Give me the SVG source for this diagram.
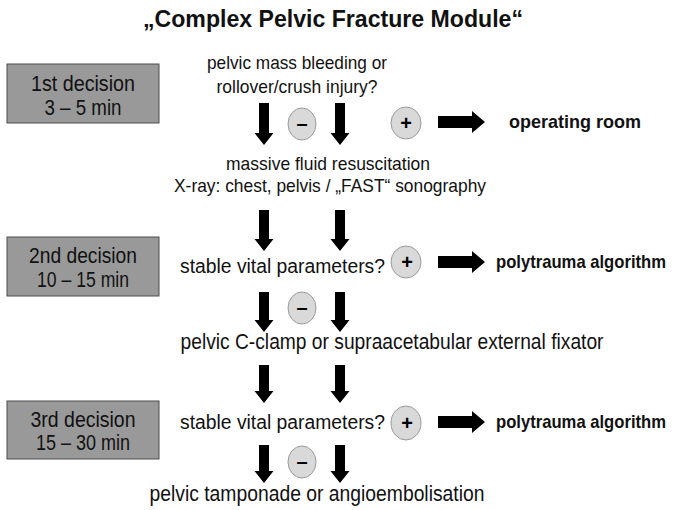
<svg xmlns="http://www.w3.org/2000/svg" width="685" height="510" viewBox="0 0 685 510">
<style>
.t{font-family:"Liberation Sans",Arial,sans-serif;fill:#111;}
.b{font-weight:bold;}
.box{fill:#999999;stroke:#4d4d4d;stroke-width:1;}
.c{fill:#d9d9d9;stroke:#9a9a9a;stroke-width:1;}
.s{font-family:"Liberation Sans",Arial,sans-serif;font-weight:bold;font-size:20px;fill:#000;text-anchor:middle;}
.ar{fill:#000;}
</style>
<rect width="685" height="510" fill="#fff"/>
<text class="t b" x="333" y="27" font-size="23.5" text-anchor="middle" textLength="380" lengthAdjust="spacingAndGlyphs">„Complex Pelvic Fracture Module“</text>

<g id="box1"><rect class="box" x="7" y="64" width="152" height="59"/>
<text class="t" x="83" y="91" font-size="21.5" text-anchor="middle" textLength="104" lengthAdjust="spacingAndGlyphs">1st decision</text>
<text class="t" x="83" y="115" font-size="21.5" text-anchor="middle" textLength="77" lengthAdjust="spacingAndGlyphs">3 – 5 min</text></g>
<g id="box2"><rect class="box" x="7" y="237" width="152" height="59"/>
<text class="t" x="83" y="263" font-size="21.5" text-anchor="middle" textLength="108" lengthAdjust="spacingAndGlyphs">2nd decision</text>
<text class="t" x="83" y="287" font-size="21.5" text-anchor="middle" textLength="92" lengthAdjust="spacingAndGlyphs">10 – 15 min</text></g>
<g id="box3"><rect class="box" x="7" y="401" width="152" height="58"/>
<text class="t" x="83" y="427" font-size="21.5" text-anchor="middle" textLength="105" lengthAdjust="spacingAndGlyphs">3rd decision</text>
<text class="t" x="83" y="450" font-size="21.5" text-anchor="middle" textLength="94" lengthAdjust="spacingAndGlyphs">15 – 30 min</text></g>

<g id="q1"><text class="t" x="297" y="69" font-size="19" text-anchor="middle" textLength="180" lengthAdjust="spacingAndGlyphs">pelvic mass bleeding or</text>
<text class="t" x="297" y="93" font-size="19" text-anchor="middle" textLength="161" lengthAdjust="spacingAndGlyphs">rollover/crush injury?</text></g>
<g id="minus1"><ellipse class="c" cx="302" cy="124" rx="14" ry="16"/><text class="s" x="302" y="130">–</text></g>
<g id="plus1"><ellipse class="c" cx="406" cy="123" rx="15" ry="16"/><text class="s" x="406" y="130">+</text></g>
<g id="or"><text class="t b" x="509" y="128" font-size="18.5" textLength="132" lengthAdjust="spacingAndGlyphs">operating  room</text></g>

<g id="step1"><text class="t" x="328" y="170" font-size="19" text-anchor="middle" textLength="204" lengthAdjust="spacingAndGlyphs">massive  fluid resuscitation</text>
<text class="t" x="330" y="192" font-size="19" text-anchor="middle" textLength="312" lengthAdjust="spacingAndGlyphs">X-ray: chest, pelvis / „FAST“ sonography</text></g>

<g id="q2"><text class="t" x="180" y="273" font-size="20" textLength="205" lengthAdjust="spacingAndGlyphs">stable vital parameters?</text></g>
<g id="plus2"><ellipse class="c" cx="406" cy="262" rx="15" ry="16"/><text class="s" x="407" y="269">+</text></g>
<g id="poly1"><text class="t b" x="496" y="268" font-size="18.5" textLength="170" lengthAdjust="spacingAndGlyphs">polytrauma  algorithm</text></g>
<g id="minus2"><ellipse class="c" cx="302" cy="308" rx="14" ry="16"/><text class="s" x="302" y="314">–</text></g>

<g id="step2"><text class="t" x="392" y="349" font-size="21.5" text-anchor="middle" textLength="423" lengthAdjust="spacingAndGlyphs">pelvic C-clamp or supraacetabular external fixator</text></g>

<g id="q3"><text class="t" x="180" y="429" font-size="20" textLength="205" lengthAdjust="spacingAndGlyphs">stable vital parameters?</text></g>
<g id="plus3"><ellipse class="c" cx="406" cy="423" rx="15" ry="17"/><text class="s" x="407" y="430">+</text></g>
<g id="poly2"><text class="t b" x="496" y="428" font-size="18.5" textLength="170" lengthAdjust="spacingAndGlyphs">polytrauma  algorithm</text></g>
<g id="minus3"><ellipse class="c" cx="302" cy="462" rx="14" ry="16"/><text class="s" x="302" y="468">–</text></g>

<g id="step3"><text class="t" x="317" y="501" font-size="21.5" text-anchor="middle" textLength="335" lengthAdjust="spacingAndGlyphs">pelvic tamponade or angioembolisation</text></g>

<g id="connectors" class="ar">
<path d="M259 103H269V133H273.5L264 145L254.5 133H259Z"/>
<path d="M335 103H345V133H349.5L340 145L330.5 133H335Z"/>
<path d="M438 116H472V111L485 122L472 133V128H438Z"/>
<path d="M259 210H269V239H273.5L264 251L254.5 239H259Z"/>
<path d="M335 210H345V239H349.5L340 251L330.5 239H335Z"/>
<path d="M438 256H472V251L485 262L472 273V268H438Z"/>
<path d="M259 292H269V320H273.5L264 332L254.5 320H259Z"/>
<path d="M335 292H345V320H349.5L340 332L330.5 320H335Z"/>
<path d="M259 365H269V391H273.5L264 403L254.5 391H259Z"/>
<path d="M335 365H345V391H349.5L340 403L330.5 391H335Z"/>
<path d="M438 416H472V411L485 422L472 433V428H438Z"/>
<path d="M259 445H269V471H273.5L264 483L254.5 471H259Z"/>
<path d="M335 445H345V471H349.5L340 483L330.5 471H335Z"/>
</g>
</svg>
